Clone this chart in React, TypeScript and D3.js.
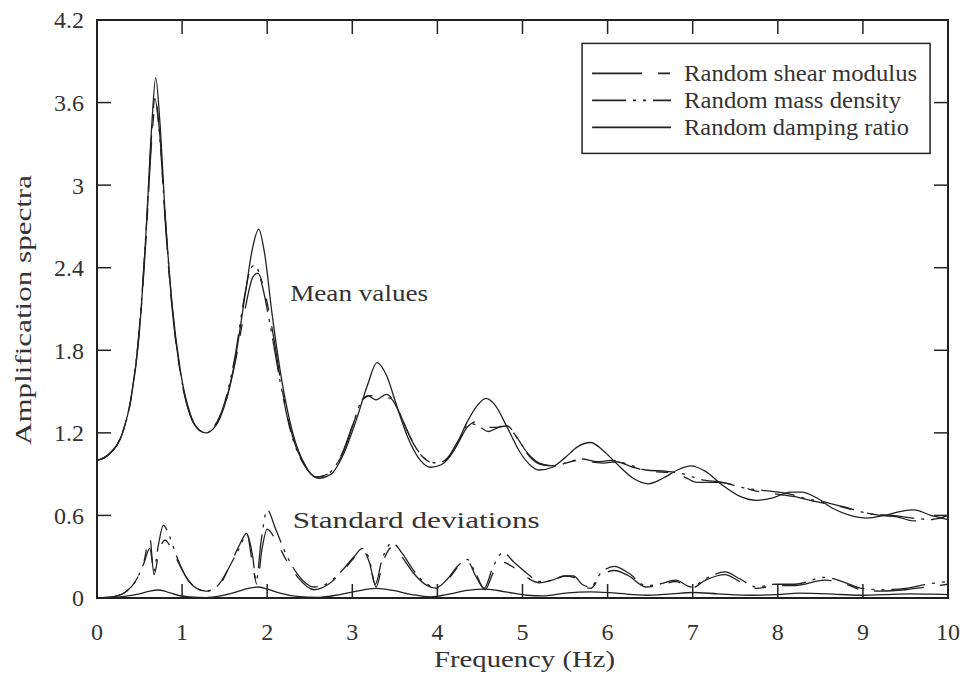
import React from 'react';
import * as d3 from 'd3';

// frequency (Hz), amplification
const meanShear: [number, number][] = [
  [0, 1.0], [0.15, 1.05], [0.3, 1.2], [0.4, 1.45], [0.5, 1.95], [0.58, 2.65], [0.64, 3.3], [0.69, 3.6],
  [0.74, 3.35], [0.8, 2.75], [0.88, 2.12], [0.98, 1.63], [1.1, 1.32], [1.2, 1.22], [1.28, 1.2], [1.38, 1.24],
  [1.5, 1.4], [1.62, 1.7], [1.74, 2.1], [1.83, 2.33], [1.89, 2.36], [1.96, 2.25], [2.06, 1.95], [2.18, 1.5],
  [2.3, 1.17], [2.45, 0.96], [2.6, 0.88], [2.75, 0.92], [2.9, 1.07], [3.02, 1.28], [3.12, 1.44], [3.22, 1.47],
  [3.35, 1.46], [3.45, 1.45], [3.55, 1.35], [3.68, 1.17], [3.82, 1.03], [3.97, 0.98], [4.1, 1.0], [4.22, 1.1],
  [4.35, 1.24], [4.45, 1.28], [4.58, 1.24], [4.7, 1.24], [4.8, 1.26], [4.92, 1.18], [5.05, 1.06], [5.2, 0.98],
  [5.35, 0.96], [5.5, 0.98], [5.65, 1.0], [5.8, 0.99], [5.95, 0.98], [6.1, 0.99], [6.3, 0.95], [6.5, 0.92],
  [6.75, 0.91], [6.9, 0.88], [7.05, 0.84], [7.3, 0.84], [7.55, 0.81], [7.8, 0.77], [8.05, 0.75], [8.25, 0.73],
  [8.45, 0.7], [8.7, 0.67], [8.95, 0.63], [9.2, 0.6], [9.4, 0.59], [9.6, 0.56], [9.8, 0.57], [10, 0.59],
];

const meanMass: [number, number][] = [
  [0, 1.0], [0.15, 1.05], [0.3, 1.2], [0.4, 1.45], [0.5, 1.98], [0.58, 2.7], [0.64, 3.35], [0.68, 3.63],
  [0.73, 3.4], [0.8, 2.78], [0.88, 2.13], [0.98, 1.64], [1.1, 1.32], [1.2, 1.22], [1.28, 1.2], [1.38, 1.25],
  [1.5, 1.42], [1.62, 1.75], [1.73, 2.18], [1.81, 2.4], [1.86, 2.42], [1.93, 2.3], [2.03, 2.0], [2.15, 1.58],
  [2.28, 1.2], [2.43, 0.97], [2.58, 0.88], [2.73, 0.91], [2.88, 1.05], [3.0, 1.25], [3.1, 1.42], [3.18, 1.47],
  [3.28, 1.44], [3.4, 1.48], [3.48, 1.44], [3.6, 1.28], [3.72, 1.12], [3.86, 1.01], [4.0, 0.98], [4.12, 1.02],
  [4.25, 1.15], [4.38, 1.27], [4.48, 1.25], [4.6, 1.21], [4.72, 1.24], [4.82, 1.25], [4.95, 1.15], [5.08, 1.03],
  [5.22, 0.97], [5.38, 0.96], [5.55, 0.99], [5.7, 1.01], [5.88, 0.99], [6.05, 1.0], [6.25, 0.97], [6.45, 0.93],
  [6.7, 0.92], [6.9, 0.9], [7.1, 0.86], [7.35, 0.84], [7.6, 0.8], [7.85, 0.78], [8.1, 0.76], [8.35, 0.72],
  [8.6, 0.69], [8.85, 0.65], [9.1, 0.61], [9.35, 0.6], [9.6, 0.58], [9.8, 0.57], [10, 0.6],
];

const meanDamping: [number, number][] = [
  [0, 1.0], [0.15, 1.05], [0.3, 1.2], [0.4, 1.45], [0.5, 1.95], [0.58, 2.7], [0.64, 3.4], [0.69, 3.78],
  [0.74, 3.45], [0.8, 2.8], [0.88, 2.15], [0.98, 1.65], [1.1, 1.33], [1.2, 1.22], [1.28, 1.2], [1.38, 1.24],
  [1.5, 1.4], [1.62, 1.72], [1.74, 2.2], [1.83, 2.55], [1.9, 2.68], [1.97, 2.5], [2.06, 2.05], [2.18, 1.55],
  [2.3, 1.2], [2.45, 0.96], [2.6, 0.87], [2.75, 0.9], [2.9, 1.05], [3.05, 1.3], [3.18, 1.55], [3.29, 1.71],
  [3.4, 1.62], [3.52, 1.4], [3.65, 1.17], [3.8, 1.0], [3.92, 0.95], [4.05, 0.97], [4.2, 1.08], [4.35, 1.28],
  [4.47, 1.4], [4.57, 1.45], [4.68, 1.4], [4.82, 1.24], [4.98, 1.05], [5.1, 0.96], [5.2, 0.93], [5.35, 0.95],
  [5.5, 1.02], [5.65, 1.1], [5.8, 1.13], [5.95, 1.07], [6.1, 0.98], [6.3, 0.87], [6.48, 0.83], [6.65, 0.87],
  [6.82, 0.93], [6.98, 0.96], [7.15, 0.92], [7.35, 0.82], [7.55, 0.74], [7.75, 0.71], [7.95, 0.73], [8.15, 0.77],
  [8.28, 0.77], [8.45, 0.73], [8.65, 0.65], [8.85, 0.6], [9.05, 0.58], [9.25, 0.6], [9.45, 0.63], [9.6, 0.64],
  [9.8, 0.6], [10, 0.57],
];

const sdShear: [number, number][] = [
  [0, 0], [0.2, 0.01], [0.35, 0.05], [0.45, 0.12], [0.55, 0.26], [0.62, 0.44], [0.67, 0.17], [0.73, 0.34],
  [0.8, 0.42], [0.88, 0.35], [0.97, 0.24], [1.07, 0.13], [1.17, 0.07], [1.28, 0.05], [1.42, 0.08], [1.55, 0.22],
  [1.67, 0.38], [1.76, 0.47], [1.82, 0.28], [1.88, 0.1], [1.94, 0.36], [2.0, 0.5], [2.1, 0.42], [2.22, 0.28],
  [2.36, 0.15], [2.55, 0.06], [2.72, 0.1], [2.88, 0.19], [3.02, 0.29], [3.12, 0.35], [3.2, 0.26], [3.28, 0.08],
  [3.36, 0.26], [3.47, 0.37], [3.58, 0.3], [3.72, 0.18], [3.88, 0.09], [4.0, 0.07], [4.12, 0.13], [4.25, 0.23],
  [4.35, 0.27], [4.45, 0.16], [4.56, 0.06], [4.66, 0.19], [4.77, 0.26], [4.9, 0.22], [5.05, 0.15], [5.2, 0.11],
  [5.35, 0.13], [5.5, 0.16], [5.6, 0.15], [5.7, 0.09], [5.8, 0.07], [5.92, 0.16], [6.08, 0.2], [6.25, 0.16],
  [6.45, 0.08], [6.6, 0.09], [6.8, 0.12], [6.98, 0.07], [7.15, 0.13], [7.38, 0.17], [7.55, 0.12], [7.75, 0.07],
  [7.97, 0.09], [8.2, 0.09], [8.55, 0.13], [8.8, 0.1], [8.98, 0.06], [9.2, 0.05], [9.5, 0.06], [9.75, 0.08],
  [10, 0.1],
];

const sdMass: [number, number][] = [
  [0, 0], [0.2, 0.01], [0.35, 0.05], [0.45, 0.12], [0.55, 0.25], [0.62, 0.36], [0.67, 0.2], [0.72, 0.38],
  [0.78, 0.53], [0.85, 0.45], [0.95, 0.28], [1.05, 0.15], [1.15, 0.08], [1.28, 0.05], [1.42, 0.09], [1.55, 0.22],
  [1.67, 0.36], [1.76, 0.46], [1.83, 0.3], [1.87, 0.12], [1.93, 0.42], [2.0, 0.64], [2.1, 0.5], [2.22, 0.32],
  [2.36, 0.17], [2.55, 0.08], [2.72, 0.11], [2.88, 0.2], [3.02, 0.3], [3.12, 0.36], [3.2, 0.28], [3.27, 0.1],
  [3.35, 0.28], [3.47, 0.4], [3.58, 0.33], [3.72, 0.2], [3.88, 0.1], [4.0, 0.08], [4.12, 0.14], [4.25, 0.24],
  [4.35, 0.28], [4.45, 0.18], [4.55, 0.07], [4.65, 0.22], [4.77, 0.33], [4.9, 0.26], [5.05, 0.18], [5.2, 0.12],
  [5.35, 0.13], [5.5, 0.16], [5.6, 0.16], [5.7, 0.1], [5.8, 0.08], [5.92, 0.18], [6.08, 0.23], [6.25, 0.18],
  [6.45, 0.09], [6.6, 0.1], [6.8, 0.13], [6.98, 0.08], [7.15, 0.14], [7.38, 0.19], [7.55, 0.14], [7.75, 0.08],
  [7.97, 0.1], [8.2, 0.1], [8.55, 0.15], [8.8, 0.11], [8.98, 0.07], [9.2, 0.06], [9.5, 0.07], [9.75, 0.1],
  [10, 0.12],
];

const sdDamping: [number, number][] = [
  [0, 0], [0.3, 0.01], [0.5, 0.03], [0.62, 0.05], [0.72, 0.058], [0.82, 0.045], [0.95, 0.02], [1.1, 0.008],
  [1.28, 0.003], [1.45, 0.015], [1.62, 0.04], [1.78, 0.07], [1.89, 0.08], [2.0, 0.065], [2.15, 0.035],
  [2.35, 0.012], [2.6, 0.005], [2.85, 0.025], [3.05, 0.05], [3.28, 0.07], [3.48, 0.055], [3.7, 0.025],
  [3.92, 0.008], [4.15, 0.03], [4.35, 0.055], [4.57, 0.065], [4.8, 0.045], [5.05, 0.02], [5.25, 0.015],
  [5.5, 0.035], [5.8, 0.045], [6.1, 0.035], [6.45, 0.02], [6.75, 0.03], [7.0, 0.04], [7.3, 0.03], [7.7, 0.02],
  [8.0, 0.025], [8.25, 0.035], [8.6, 0.03], [8.95, 0.02], [9.25, 0.025], [9.55, 0.03], [9.8, 0.028], [10, 0.025],
];

const xTicks = [0, 1, 2, 3, 4, 5, 6, 7, 8, 9, 10];
const yTicks = [0, 0.6, 1.2, 1.8, 2.4, 3, 3.6, 4.2];
const yTickLabels = ['0', '0.6', '1.2', '1.8', '2.4', '3', '3.6', '4.2'];

const legendLabels = ['Random shear modulus', 'Random mass density', 'Random damping ratio'];

const W = 964;
const H = 676;
const margin = { top: 20, right: 16, bottom: 78, left: 97 };
const FONT = "'Liberation Serif', serif";
const INK = '#222';

const dashShear = '50 16 12 16';
const dashMass = '34 7 3 7 3 7';

export default function App() {
  const innerW = W - margin.left - margin.right;
  const innerH = H - margin.top - margin.bottom;

  const x = d3.scaleLinear().domain([0, 10]).range([0, innerW]);
  const y = d3.scaleLinear().domain([0, 4.2]).range([innerH, 0]);

  const line = d3.line<[number, number]>()
    .x(d => x(d[0]))
    .y(d => y(d[1]))
    .curve(d3.curveMonotoneX);

  const series = [
    { data: meanShear, dash: dashShear },
    { data: meanMass, dash: dashMass },
    { data: meanDamping, dash: undefined },
    { data: sdShear, dash: dashShear },
    { data: sdMass, dash: dashMass },
    { data: sdDamping, dash: undefined },
  ];

  const tick = 14;
  const legendDash = [dashShear, dashMass, undefined];
  const txt = { fontFamily: FONT };

  return (
    <svg width={W} height={H} style={{ position: 'absolute', left: 0, top: 0, background: '#fff', fontFamily: FONT }}>
      <defs>
        <clipPath id="plot">
          <rect x={0} y={0} width={innerW} height={innerH} />
        </clipPath>
      </defs>
      <g transform={`translate(${margin.left},${margin.top})`}>
        {/* curves */}
        <g clipPath="url(#plot)">
          {series.map((s, i) => (
            <path key={i} d={line(s.data) || ''} fill="none" stroke={INK} strokeWidth={1.3}
              strokeDasharray={s.dash} />
          ))}
        </g>

        {/* ticks, all pointing inward */}
        {xTicks.map(t => (
          <g key={`xt${t}`}>
            <line x1={x(t)} x2={x(t)} y1={innerH} y2={innerH - tick} stroke={INK} strokeWidth={1.5} />
            <line x1={x(t)} x2={x(t)} y1={0} y2={tick} stroke={INK} strokeWidth={1.5} />
            <text x={x(t)} y={innerH + 42} textAnchor="middle" fontSize={24} fill="#333" style={txt}>{t}</text>
          </g>
        ))}
        {yTicks.map((t, i) => (
          <g key={`yt${t}`}>
            <line x1={0} x2={tick} y1={y(t)} y2={y(t)} stroke={INK} strokeWidth={1.5} />
            <line x1={innerW} x2={innerW - tick} y1={y(t)} y2={y(t)} stroke={INK} strokeWidth={1.5} />
            <text x={-13} y={y(t)} dy="0.35em" textAnchor="end" fontSize={24} fill="#333" style={txt}>{yTickLabels[i]}</text>
          </g>
        ))}

        {/* frame */}
        <rect x={0} y={0} width={innerW} height={innerH} fill="none" stroke={INK} strokeWidth={2} />

        {/* annotations */}
        <text x={x(2.27)} y={y(2.16)} fontSize={24} fill="#333" style={txt}
          textLength={138} lengthAdjust="spacingAndGlyphs">Mean values</text>
        <text x={x(2.3)} y={y(0.51)} fontSize={24} fill="#333" style={txt}
          textLength={247} lengthAdjust="spacingAndGlyphs">Standard deviations</text>

        {/* legend */}
        <g transform={`translate(${x(5.7)},${y(4.03)})`}>
          <rect x={0} y={0} width={348} height={110} fill="#fff" stroke={INK} strokeWidth={1.5} />
          {legendLabels.map((lab, i) => (
            <g key={lab} transform={`translate(0,${30 + i * 27})`}>
              <line x1={10} x2={89} y1={0} y2={0} stroke={INK} strokeWidth={1.6} strokeDasharray={legendDash[i]} />
              <text x={102} y={0} dy="0.32em" fontSize={23} fill="#333" style={txt}
                textLength={[233, 217, 225][i]} lengthAdjust="spacingAndGlyphs">{lab}</text>
            </g>
          ))}
        </g>
      </g>

      {/* axis titles */}
      <text x={margin.left + innerW / 2 + 2} y={H - 9} textAnchor="middle" fontSize={24} fill="#333" style={txt}
        textLength={181} lengthAdjust="spacingAndGlyphs">Frequency (Hz)</text>
      <text transform={`translate(31,${margin.top + 290}) rotate(-90)`} textAnchor="middle" fontSize={24} fill="#333"
        style={txt} textLength={270} lengthAdjust="spacingAndGlyphs">Amplification spectra</text>
    </svg>
  );
}
